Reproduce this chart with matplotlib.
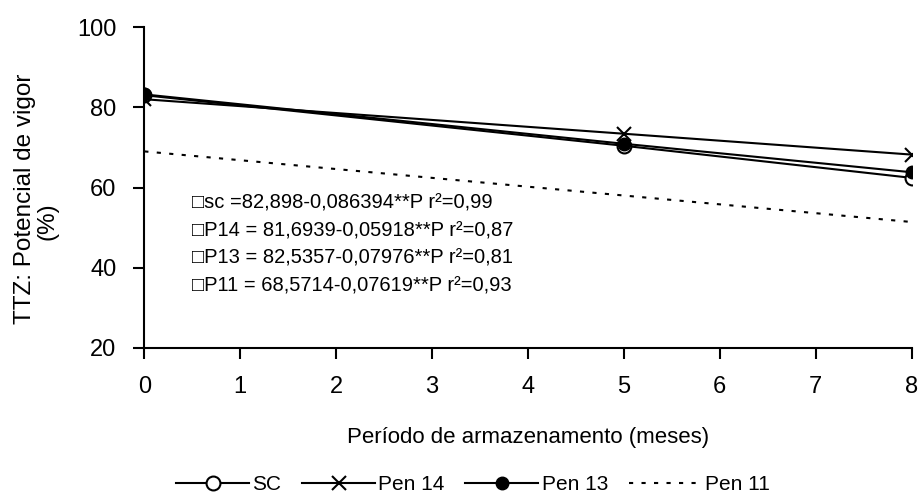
import matplotlib.pyplot as plt
import numpy as np

plt.rcParams['font.family'] = ['Liberation Sans', 'DejaVu Sans']

# storage period (months)
meses = [0, 5, 8]

# TTZ vigour (%) per treatment
sc = [83.0, 70.4, 62.4]
pen14 = [82.0, 73.4, 68.2]
pen13 = [83.2, 70.9, 63.8]
pen11 = [69.0, 58.0, 51.4]

equacoes = [
    "\u25a1sc =82,898-0,086394**P r\u00b2=0,99",
    "\u25a1P14 = 81,6939-0,05918**P r\u00b2=0,87",
    "\u25a1P13 = 82,5357-0,07976**P r\u00b2=0,81",
    "\u25a1P11 = 68,5714-0,07619**P r\u00b2=0,93",
]

xticks = list(range(0, 9))
yticks = [20, 40, 60, 80, 100]

fig = plt.figure(figsize=(9.19, 5.0), dpi=100)
ax = fig.add_axes([0.157, 0.304, 0.835, 0.642])

ax.plot(meses, sc, 'k-', lw=1.5, marker='o', mfc='white', mec='black',
        ms=10, mew=1.5, label='SC')
ax.plot(meses, pen14, 'k-', lw=1.5, marker='x', ms=10, mew=1.5, label='Pen 14')
ax.plot(meses, pen13, 'k-', lw=1.5, marker='o', ms=9, label='Pen 13')
ax.plot(meses, pen11, color='k', lw=1.5, ls=(0, (2, 4)), label='Pen 11')

ax.set_xlim(0, 8)
ax.set_ylim(20, 100)
ax.set_xticks(xticks)
ax.set_yticks(yticks)
ax.tick_params(axis='both', direction='out', length=8, width=1.5,
               labelsize=17, pad=12)
for s in ['top', 'right']:
    ax.spines[s].set_visible(False)
for s in ['left', 'bottom']:
    ax.spines[s].set_linewidth(1.5)

# axis titles
fig.text(528 / 919, 1 - 437 / 500, 'Período de armazenamento (meses)',
         fontsize=16, ha='center', va='center')
fig.text(25 / 919, 1 - 199 / 500, 'TTZ: Potencial de vigor', fontsize=17.5,
         rotation=90, ha='center', va='center')
fig.text(47 / 919, 1 - 221 / 500, '(%)', fontsize=17.5,
         rotation=90, ha='center', va='center')

for i, eq in enumerate(equacoes):
    fig.text(192 / 919, 1 - (203 + i * 27.7) / 500, eq, fontsize=14.5,
             va='center', ha='left')

fig.legend(loc='center', bbox_to_anchor=(473 / 919, 1 - 485 / 500),
           ncol=4, frameon=False, fontsize=15, handlelength=3.5,
           handletextpad=0.15, columnspacing=1.0)

fig.savefig('out.png', dpi=100)
